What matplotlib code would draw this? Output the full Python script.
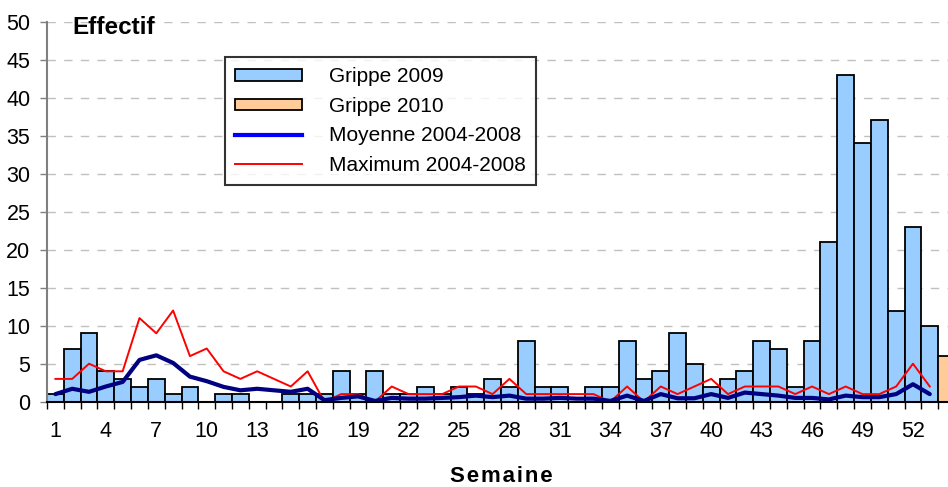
import numpy as np
import matplotlib
matplotlib.use('Agg')
import matplotlib.pyplot as plt
from matplotlib.patches import Patch
from matplotlib.lines import Line2D

plt.rcParams['font.family'] = ['Liberation Sans', 'DejaVu Sans']

# semaines 1..53 (2009) + semaine 1 de 2010
weeks = list(range(1, 54))
grippe_2009 = [1, 7, 9, 4, 3, 2, 3, 1, 2, 0,
               1, 1, 0, 0, 1, 1, 1, 4, 1, 4,
               1, 1, 2, 1, 2, 1, 3, 2, 8, 2,
               2, 0, 2, 2, 8, 3, 4, 9, 5, 2,
               3, 4, 8, 7, 2, 8, 21, 43, 34, 37,
               12, 23, 10]
grippe_2010 = [6]
moyenne = [1.0, 1.7, 1.3, 2.0, 2.6, 5.5, 6.1, 5.1, 3.3, 2.7,
           1.95, 1.5, 1.7, 1.5, 1.3, 1.7, 0.2, 0.5, 0.7, 0.1,
           0.5, 0.4, 0.4, 0.5, 0.6, 0.8, 0.6, 0.8, 0.4, 0.4,
           0.5, 0.4, 0.4, 0.1, 0.8, 0.1, 1.0, 0.45, 0.45, 1.0,
           0.5, 1.2, 1.0, 0.8, 0.5, 0.5, 0.3, 0.8, 0.6, 0.6,
           1.0, 2.3, 1.0]
maximum = [3, 3, 5, 4, 4, 11, 9, 12, 6, 7,
           4, 3, 4, 3, 2, 4, 0, 1, 1, 0,
           2, 1, 1, 1, 2, 2, 1, 3, 1, 1,
           1, 1, 1, 0, 2, 0, 2, 1, 2, 3,
           1, 2, 2, 2, 1, 2, 1, 2, 1, 1,
           2, 5, 2]
tick_weeks = list(range(1, 53, 3))

W, H = 948, 487
fig = plt.figure(figsize=(W / 100, H / 100), dpi=100)
ax = fig.add_axes([47 / W, (H - 401.7) / H, (955 - 47) / W, (401.7 - 21.7) / H])

ax.bar(weeks, grippe_2009, width=1.0, color='#99CCFF', edgecolor='black', linewidth=1.3, zorder=2)
ax.bar([54], grippe_2010, width=1.0, color='#FFCC99', edgecolor='black', linewidth=1.3, zorder=2)
ax.plot(weeks, moyenne, color='#000080', linewidth=3.0, zorder=4, solid_capstyle='round')
ax.plot(weeks, maximum, color='#FF0000', linewidth=1.4, zorder=3)

ax.set_xlim(0.5, 54.5)
ax.set_ylim(0, 50)
ax.set_yticks(range(0, 51, 5))
ax.set_xticks(tick_weeks)
ax.set_xticks(np.arange(0.5, 55, 1), minor=True)
ax.tick_params(axis='x', which='major', length=0, pad=14, labelsize=15.5)
ax.tick_params(axis='x', which='minor', length=5, width=1, color='black')
ax.tick_params(axis='y', length=5, width=1, color='#808080', pad=7, labelsize=15.5)

ax.yaxis.grid(True, color='#c0c0c0', linestyle=(0, (6, 6)), linewidth=1.0, zorder=0)
ax.set_axisbelow(True)

for s in ['top', 'right']:
    ax.spines[s].set_visible(False)
ax.spines['left'].set_color('#808080')
ax.spines['left'].set_linewidth(1.5)
ax.spines['bottom'].set_color('black')
ax.spines['bottom'].set_linewidth(1.5)
ax.spines['bottom'].set_zorder(5)

fig.text(72 / W, 1 - 34 / H, 'Effectif', fontsize=17.5, fontweight='bold', ha='left', va='baseline')
fig.text(501 / W, 1 - 476 / H, 'S e m a i n e'.replace(' ', '\u200a'), fontsize=16,
         fontweight='bold', ha='center', va='center')

handles = [
    Patch(facecolor='#99CCFF', edgecolor='black', linewidth=1.3),
    Patch(facecolor='#FFCC99', edgecolor='black', linewidth=1.3),
    Line2D([], [], color='#0000FF', linewidth=3),
    Line2D([], [], color='#FF0000', linewidth=1.4),
]
labels = ['Grippe 2009', 'Grippe 2010', 'Moyenne 2004-2008', 'Maximum 2004-2008']
leg = fig.legend(handles, labels, loc='upper left', bbox_to_anchor=(225 / W, 1 - 57 / H),
                 fontsize=15, frameon=True, fancybox=False, handlelength=3.2, handleheight=0.5,
                 handletextpad=1.3, labelspacing=0.5, borderpad=0.5, borderaxespad=0)
leg.get_frame().set_edgecolor('black')
leg.get_frame().set_linewidth(1.5)

fig.savefig('out.png', dpi=100)
